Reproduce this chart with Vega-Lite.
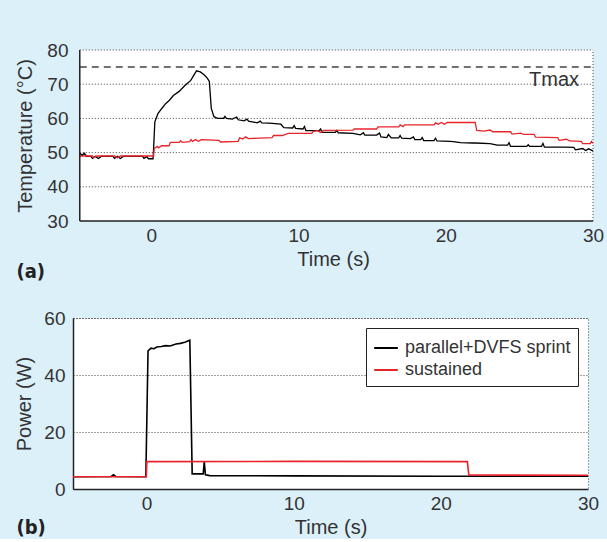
{
  "$schema": "https://vega.github.io/schema/vega-lite/v6.json",
  "background": "#dcf0fa",
  "padding": {"left": 13, "top": 41, "right": 6, "bottom": 0},
  "datasets": {
    "temp": [
      {"t": -4.86, "v": 49.8, "s": "sprint"}, {"t": -4.7, "v": 49.2, "s": "sprint"}, {"t": -4.55, "v": 49.8, "s": "sprint"}, {"t": -4.4, "v": 48.9, "s": "sprint"}, {"t": -4.1, "v": 48.9, "s": "sprint"}, {"t": -4.0, "v": 48.3, "s": "sprint"}, {"t": -3.8, "v": 48.9, "s": "sprint"}, {"t": -3.6, "v": 48.3, "s": "sprint"}, {"t": -3.4, "v": 48.9, "s": "sprint"}, {"t": -2.6, "v": 48.9, "s": "sprint"}, {"t": -2.5, "v": 48.3, "s": "sprint"}, {"t": -2.3, "v": 48.9, "s": "sprint"}, {"t": -2.1, "v": 48.3, "s": "sprint"}, {"t": -1.9, "v": 48.9, "s": "sprint"}, {"t": -0.6, "v": 48.9, "s": "sprint"}, {"t": -0.5, "v": 48.3, "s": "sprint"}, {"t": -0.3, "v": 48.8, "s": "sprint"}, {"t": -0.2, "v": 48.2, "s": "sprint"}, {"t": 0.12, "v": 48.2, "s": "sprint"}, {"t": 0.24, "v": 59, "s": "sprint"}, {"t": 0.45, "v": 61.4, "s": "sprint"}, {"t": 0.71, "v": 62.9, "s": "sprint"}, {"t": 0.97, "v": 64.3, "s": "sprint"}, {"t": 1.23, "v": 65.3, "s": "sprint"}, {"t": 1.5, "v": 66.7, "s": "sprint"}, {"t": 1.89, "v": 67.9, "s": "sprint"}, {"t": 2.28, "v": 69.6, "s": "sprint"}, {"t": 2.68, "v": 71.1, "s": "sprint"}, {"t": 2.94, "v": 73, "s": "sprint"}, {"t": 3.07, "v": 73.9, "s": "sprint"}, {"t": 3.33, "v": 73.6, "s": "sprint"}, {"t": 3.6, "v": 72.7, "s": "sprint"}, {"t": 3.8, "v": 71.8, "s": "sprint"}, {"t": 3.94, "v": 70.8, "s": "sprint"}, {"t": 4.07, "v": 63, "s": "sprint"}, {"t": 4.25, "v": 60.5, "s": "sprint"}, {"t": 4.5, "v": 60, "s": "sprint"}, {"t": 4.9, "v": 60, "s": "sprint"}, {"t": 5.0, "v": 60.6, "s": "sprint"}, {"t": 5.1, "v": 60, "s": "sprint"}, {"t": 5.5, "v": 59.8, "s": "sprint"}, {"t": 5.8, "v": 60.4, "s": "sprint"}, {"t": 5.9, "v": 59.6, "s": "sprint"}, {"t": 6.3, "v": 59.3, "s": "sprint"}, {"t": 6.5, "v": 59.8, "s": "sprint"}, {"t": 6.6, "v": 59.2, "s": "sprint"}, {"t": 7.2, "v": 58.7, "s": "sprint"}, {"t": 7.4, "v": 59.2, "s": "sprint"}, {"t": 7.5, "v": 58.7, "s": "sprint"}, {"t": 8.0, "v": 58.6, "s": "sprint"}, {"t": 8.8, "v": 58.3, "s": "sprint"}, {"t": 9.0, "v": 57.3, "s": "sprint"}, {"t": 9.6, "v": 57.2, "s": "sprint"}, {"t": 9.7, "v": 57.9, "s": "sprint"}, {"t": 9.8, "v": 57.1, "s": "sprint"}, {"t": 10.3, "v": 56.9, "s": "sprint"}, {"t": 10.4, "v": 57.6, "s": "sprint"}, {"t": 10.5, "v": 56.4, "s": "sprint"}, {"t": 11.4, "v": 56.4, "s": "sprint"}, {"t": 11.5, "v": 56.9, "s": "sprint"}, {"t": 11.6, "v": 55.9, "s": "sprint"}, {"t": 12.5, "v": 55.9, "s": "sprint"}, {"t": 12.6, "v": 56.5, "s": "sprint"}, {"t": 12.7, "v": 55.8, "s": "sprint"}, {"t": 13.7, "v": 55.6, "s": "sprint"}, {"t": 14.2, "v": 55.2, "s": "sprint"}, {"t": 14.4, "v": 55.8, "s": "sprint"}, {"t": 14.5, "v": 55.1, "s": "sprint"}, {"t": 15.3, "v": 55.1, "s": "sprint"}, {"t": 15.5, "v": 55.7, "s": "sprint"}, {"t": 15.6, "v": 54.6, "s": "sprint"}, {"t": 16.0, "v": 54.4, "s": "sprint"}, {"t": 16.1, "v": 55.3, "s": "sprint"}, {"t": 16.3, "v": 54.3, "s": "sprint"}, {"t": 16.8, "v": 54.3, "s": "sprint"}, {"t": 16.9, "v": 55, "s": "sprint"}, {"t": 17.0, "v": 54.2, "s": "sprint"}, {"t": 17.6, "v": 54.1, "s": "sprint"}, {"t": 17.8, "v": 54.6, "s": "sprint"}, {"t": 17.9, "v": 53.8, "s": "sprint"}, {"t": 18.3, "v": 53.8, "s": "sprint"}, {"t": 18.4, "v": 54.4, "s": "sprint"}, {"t": 18.5, "v": 53.5, "s": "sprint"}, {"t": 19.2, "v": 53.5, "s": "sprint"}, {"t": 19.3, "v": 54.2, "s": "sprint"}, {"t": 19.4, "v": 53.4, "s": "sprint"}, {"t": 20.3, "v": 53.3, "s": "sprint"}, {"t": 20.5, "v": 53.2, "s": "sprint"}, {"t": 21.0, "v": 52.9, "s": "sprint"}, {"t": 21.8, "v": 52.8, "s": "sprint"}, {"t": 22.0, "v": 52.8, "s": "sprint"}, {"t": 23.0, "v": 52.6, "s": "sprint"}, {"t": 23.5, "v": 52.2, "s": "sprint"}, {"t": 24.2, "v": 52.2, "s": "sprint"}, {"t": 24.3, "v": 52.9, "s": "sprint"}, {"t": 24.4, "v": 51.8, "s": "sprint"}, {"t": 25.5, "v": 51.8, "s": "sprint"}, {"t": 25.6, "v": 52.3, "s": "sprint"}, {"t": 25.7, "v": 51.8, "s": "sprint"}, {"t": 26.5, "v": 51.8, "s": "sprint"}, {"t": 26.6, "v": 52.7, "s": "sprint"}, {"t": 26.7, "v": 51.6, "s": "sprint"}, {"t": 28.0, "v": 51.6, "s": "sprint"}, {"t": 28.7, "v": 51.5, "s": "sprint"}, {"t": 28.8, "v": 50.8, "s": "sprint"}, {"t": 29.3, "v": 51.2, "s": "sprint"}, {"t": 29.5, "v": 50.6, "s": "sprint"}, {"t": 29.7, "v": 51.1, "s": "sprint"}, {"t": 30, "v": 50.5, "s": "sprint"},
      {"t": -4.86, "v": 49, "s": "sustained"}, {"t": -4, "v": 49, "s": "sustained"}, {"t": -3.9, "v": 48.5, "s": "sustained"}, {"t": -3.7, "v": 49, "s": "sustained"}, {"t": -2.5, "v": 49, "s": "sustained"}, {"t": -2.3, "v": 48.5, "s": "sustained"}, {"t": -2.1, "v": 49, "s": "sustained"}, {"t": 0.15, "v": 49, "s": "sustained"}, {"t": 0.2, "v": 51.2, "s": "sustained"}, {"t": 0.4, "v": 51.8, "s": "sustained"}, {"t": 0.5, "v": 51.4, "s": "sustained"}, {"t": 0.7, "v": 52, "s": "sustained"}, {"t": 1.2, "v": 52, "s": "sustained"}, {"t": 1.3, "v": 53, "s": "sustained"}, {"t": 1.9, "v": 53, "s": "sustained"}, {"t": 2.0, "v": 53.5, "s": "sustained"}, {"t": 2.1, "v": 53, "s": "sustained"}, {"t": 2.6, "v": 53.2, "s": "sustained"}, {"t": 2.7, "v": 53.8, "s": "sustained"}, {"t": 2.8, "v": 53.3, "s": "sustained"}, {"t": 3.0, "v": 53.8, "s": "sustained"}, {"t": 3.2, "v": 53.3, "s": "sustained"}, {"t": 3.4, "v": 53.8, "s": "sustained"}, {"t": 4.6, "v": 53.6, "s": "sustained"}, {"t": 4.7, "v": 53.1, "s": "sustained"}, {"t": 5.9, "v": 53.3, "s": "sustained"}, {"t": 6.0, "v": 54.3, "s": "sustained"}, {"t": 6.2, "v": 54, "s": "sustained"}, {"t": 6.4, "v": 54.6, "s": "sustained"}, {"t": 6.6, "v": 54.1, "s": "sustained"}, {"t": 8.2, "v": 54.4, "s": "sustained"}, {"t": 8.3, "v": 55, "s": "sustained"}, {"t": 8.9, "v": 55, "s": "sustained"}, {"t": 9.3, "v": 55.6, "s": "sustained"}, {"t": 10.9, "v": 55.6, "s": "sustained"}, {"t": 11.0, "v": 56.2, "s": "sustained"}, {"t": 11.3, "v": 56.4, "s": "sustained"}, {"t": 11.5, "v": 55.9, "s": "sustained"}, {"t": 11.7, "v": 56.5, "s": "sustained"}, {"t": 13.7, "v": 56.6, "s": "sustained"}, {"t": 13.8, "v": 56.9, "s": "sustained"}, {"t": 15.3, "v": 56.9, "s": "sustained"}, {"t": 15.4, "v": 57.5, "s": "sustained"}, {"t": 16.8, "v": 57.5, "s": "sustained"}, {"t": 16.9, "v": 58.1, "s": "sustained"}, {"t": 17.1, "v": 57.6, "s": "sustained"}, {"t": 17.2, "v": 58.1, "s": "sustained"}, {"t": 19.2, "v": 58.1, "s": "sustained"}, {"t": 19.3, "v": 58.7, "s": "sustained"}, {"t": 19.5, "v": 58.3, "s": "sustained"}, {"t": 19.7, "v": 58.8, "s": "sustained"}, {"t": 19.9, "v": 58.3, "s": "sustained"}, {"t": 20.1, "v": 58.8, "s": "sustained"}, {"t": 22.0, "v": 58.8, "s": "sustained"}, {"t": 22.1, "v": 56.5, "s": "sustained"}, {"t": 22.6, "v": 56.3, "s": "sustained"}, {"t": 23.0, "v": 56.6, "s": "sustained"}, {"t": 23.2, "v": 56.1, "s": "sustained"}, {"t": 24.4, "v": 56.1, "s": "sustained"}, {"t": 24.5, "v": 55.4, "s": "sustained"}, {"t": 25.1, "v": 55.7, "s": "sustained"}, {"t": 25.3, "v": 55.3, "s": "sustained"}, {"t": 26.0, "v": 55.3, "s": "sustained"}, {"t": 26.1, "v": 54.5, "s": "sustained"}, {"t": 27.6, "v": 54.4, "s": "sustained"}, {"t": 27.7, "v": 53.6, "s": "sustained"}, {"t": 28.2, "v": 53.9, "s": "sustained"}, {"t": 28.4, "v": 53.4, "s": "sustained"}, {"t": 29.2, "v": 53.3, "s": "sustained"}, {"t": 29.3, "v": 52.6, "s": "sustained"}, {"t": 29.8, "v": 52.6, "s": "sustained"}, {"t": 29.9, "v": 53.3, "s": "sustained"}, {"t": 30, "v": 52.7, "s": "sustained"}
    ],
    "power": [
      {"t": -5, "v": 4.3, "s": "parallel+DVFS sprint"}, {"t": -2.4, "v": 4.4, "s": "parallel+DVFS sprint"}, {"t": -2.25, "v": 5.0, "s": "parallel+DVFS sprint"}, {"t": -2.1, "v": 4.4, "s": "parallel+DVFS sprint"}, {"t": -0.05, "v": 4.3, "s": "parallel+DVFS sprint"}, {"t": 0.1, "v": 48.5, "s": "parallel+DVFS sprint"}, {"t": 0.3, "v": 49.4, "s": "parallel+DVFS sprint"}, {"t": 0.5, "v": 49.2, "s": "parallel+DVFS sprint"}, {"t": 0.7, "v": 49.8, "s": "parallel+DVFS sprint"}, {"t": 1.0, "v": 50.0, "s": "parallel+DVFS sprint"}, {"t": 1.3, "v": 50.3, "s": "parallel+DVFS sprint"}, {"t": 1.6, "v": 50.2, "s": "parallel+DVFS sprint"}, {"t": 2.0, "v": 50.9, "s": "parallel+DVFS sprint"}, {"t": 2.3, "v": 51.1, "s": "parallel+DVFS sprint"}, {"t": 2.6, "v": 51.5, "s": "parallel+DVFS sprint"}, {"t": 2.94, "v": 52.2, "s": "parallel+DVFS sprint"}, {"t": 3.1, "v": 5.3, "s": "parallel+DVFS sprint"}, {"t": 3.85, "v": 5.3, "s": "parallel+DVFS sprint"}, {"t": 3.92, "v": 9.6, "s": "parallel+DVFS sprint"}, {"t": 4.0, "v": 5.0, "s": "parallel+DVFS sprint"}, {"t": 4.3, "v": 4.7, "s": "parallel+DVFS sprint"}, {"t": 10, "v": 4.6, "s": "parallel+DVFS sprint"}, {"t": 20, "v": 4.5, "s": "parallel+DVFS sprint"}, {"t": 30, "v": 4.5, "s": "parallel+DVFS sprint"},
      {"t": -5, "v": 4.3, "s": "sustained"}, {"t": -0.02, "v": 4.3, "s": "sustained"}, {"t": 0.02, "v": 9.6, "s": "sustained"}, {"t": 10, "v": 9.7, "s": "sustained"}, {"t": 21.8, "v": 9.6, "s": "sustained"}, {"t": 21.9, "v": 4.9, "s": "sustained"}, {"t": 30, "v": 4.8, "s": "sustained"}
    ],
    "tmax": [{"v": 75, "label": "Tmax", "tx": 29.05, "ty": 71.1, "x0": -4.86, "x1": 30}],
    "frame": [{"x0": -4.86, "x1": 30, "y0": 30, "y1": 80}],
    "grid": [
      {"x0": -4.86, "x1": 30, "g": 40}, {"x0": -4.86, "x1": 30, "g": 50}, {"x0": -4.86, "x1": 30, "g": 60}, {"x0": -4.86, "x1": 30, "g": 70}, {"x0": -4.86, "x1": 30, "g": 80}
    ]
  },
  "vconcat": [
    {
      "width": 520,
      "height": 171,
      "view": {"fill": null, "stroke": null},
      "title": {"text": "(a)", "orient": "bottom", "anchor": "start", "frame": "group", "dx": -56.5, "offset": -7, "fontSize": 20, "fontWeight": "bold", "font": "DejaVu Sans Condensed, Liberation Sans", "color": "#222"},
      "layer": [
        {
          "data": {"name": "frame"},
          "mark": {"type": "rect", "color": "white"},
          "encoding": {
            "x": {"field": "x0", "type": "quantitative", "scale": {"domain": [-5.32, 30], "nice": false, "zero": false}, "axis": {"values": [0, 10, 20, 30], "title": "Time (s)", "grid": false, "domain": false, "labelOverlap": false}},
            "x2": {"field": "x1"},
            "y": {"field": "y0", "type": "quantitative", "scale": {"domain": [30, 80], "nice": false, "zero": false}, "axis": {"tickCount": 6, "title": "Temperature (°C)", "grid": false, "domain": false, "labelPadding": 5, "titlePadding": 11, "labelOverlap": false}},
            "y2": {"field": "y1"}
          }
        },
        {
          "data": {"name": "grid"},
          "mark": {"type": "rule", "color": "#444444", "strokeDash": [1, 2], "strokeWidth": 1},
          "encoding": {
            "x": {"field": "x0", "type": "quantitative"},
            "x2": {"field": "x1"},
            "y": {"field": "g", "type": "quantitative"}
          }
        },
        {
          "data": {"name": "frame"},
          "mark": {"type": "rule", "color": "#444444", "strokeDash": [1, 2], "strokeWidth": 1},
          "encoding": {
            "x": {"field": "x1", "type": "quantitative"},
            "y": {"field": "y0", "type": "quantitative"},
            "y2": {"field": "y1"}
          }
        },
        {
          "data": {"name": "temp"},
          "transform": [{"filter": "datum.s === 'sprint'"}],
          "mark": {"type": "line", "color": "#000000", "strokeWidth": 1.3},
          "encoding": {
            "x": {"field": "t", "type": "quantitative"},
            "y": {"field": "v", "type": "quantitative"}
          }
        },
        {
          "data": {"name": "temp"},
          "transform": [{"filter": "datum.s === 'sustained'"}],
          "mark": {"type": "line", "color": "#e8232a", "strokeWidth": 1.3},
          "encoding": {
            "x": {"field": "t", "type": "quantitative"},
            "y": {"field": "v", "type": "quantitative"}
          }
        },
        {
          "data": {"name": "tmax"},
          "mark": {"type": "rule", "color": "#444444", "strokeDash": [7, 5], "strokeWidth": 1.5},
          "encoding": {
            "x": {"field": "x0", "type": "quantitative"},
            "x2": {"field": "x1"},
            "y": {"field": "v", "type": "quantitative"}
          }
        },
        {
          "data": {"name": "tmax"},
          "mark": {"type": "text", "align": "right", "baseline": "middle", "fontSize": 20, "font": "Liberation Sans", "color": "#333333"},
          "encoding": {
            "x": {"field": "tx", "type": "quantitative"},
            "y": {"field": "ty", "type": "quantitative"},
            "text": {"field": "label"}
          }
        },
        {
          "data": {"name": "frame"},
          "mark": {"type": "rule", "color": "#222222", "strokeWidth": 1.5},
          "encoding": {
            "x": {"field": "x0", "type": "quantitative"},
            "y": {"field": "y0", "type": "quantitative"},
            "y2": {"field": "y1"}
          }
        },
        {
          "data": {"name": "frame"},
          "mark": {"type": "rule", "color": "#222222", "strokeWidth": 1.5},
          "encoding": {
            "x": {"field": "x0", "type": "quantitative"},
            "x2": {"field": "x1"},
            "y": {"field": "y0", "type": "quantitative"}
          }
        }
      ]
    },
    {
      "width": 515,
      "height": 171,
      "title": {"text": "(b)", "orient": "bottom", "anchor": "start", "frame": "group", "dx": -56.5, "offset": -19, "fontSize": 20, "fontWeight": "bold", "font": "DejaVu Sans Condensed, Liberation Sans", "color": "#222"},
      "layer": [
        {
          "data": {"name": "power"},
          "transform": [{"filter": "datum.s !== 'sustained'"}],
          "mark": {"type": "line", "strokeWidth": 1.6},
          "encoding": {
            "x": {"field": "t", "type": "quantitative", "scale": {"domain": [-5, 30], "nice": false, "zero": false}, "axis": {"values": [0, 10, 20, 30], "title": "Time (s)", "grid": false, "labelOverlap": false}},
            "y": {"field": "v", "type": "quantitative", "scale": {"domain": [0, 60], "nice": false}, "axis": {"values": [0, 20, 40, 60], "title": "Power (W)", "labelPadding": 8, "titlePadding": 9.5, "labelOverlap": false}},
            "color": {"field": "s", "type": "nominal", "scale": {"domain": ["parallel+DVFS sprint", "sustained"], "range": ["#000000", "#e8232a"]}, "legend": {"title": null}}
          }
        },
        {
          "data": {"name": "power"},
          "transform": [{"filter": "datum.s === 'sustained'"}],
          "mark": {"type": "line", "strokeWidth": 1.6},
          "encoding": {
            "x": {"field": "t", "type": "quantitative"},
            "y": {"field": "v", "type": "quantitative"},
            "color": {"field": "s", "type": "nominal"}
          }
        }
      ]
    }
  ],
  "spacing": 26,
  "resolve": {"scale": {"color": "independent"}, "legend": {"color": "independent"}},
  "config": {
    "font": "Liberation Sans",
    "view": {"stroke": "#444444", "strokeDash": [1, 2], "strokeWidth": 1, "fill": "white"},
    "axis": {
      "domainColor": "#222222", "domainWidth": 1.5, "ticks": false, "labelFlush": false, "labelOverlap": false,
      "labelFont": "Liberation Sans", "labelFontSize": 19, "labelColor": "#333333", "labelPadding": 7,
      "titleFont": "Liberation Sans", "titleFontSize": 20, "titleFontWeight": "normal", "titleColor": "#333333",
      "gridColor": "#444444", "gridDash": [1, 2], "gridWidth": 1
    },
    "axisY": {"labelOverlap": false},
    "axisX": {"labelPadding": 5, "titlePadding": 4},
    "legend": {
      "orient": "top-right", "offset": 10, "fillColor": "white", "strokeColor": "#222222", "padding": 7,
      "labelFontSize": 18, "labelFont": "Liberation Sans", "labelColor": "#333333", "labelLimit": 400,
      "symbolType": "stroke", "symbolStrokeWidth": 2, "symbolSize": 560, "rowPadding": -2, "labelOffset": 6
    }
  }
}
